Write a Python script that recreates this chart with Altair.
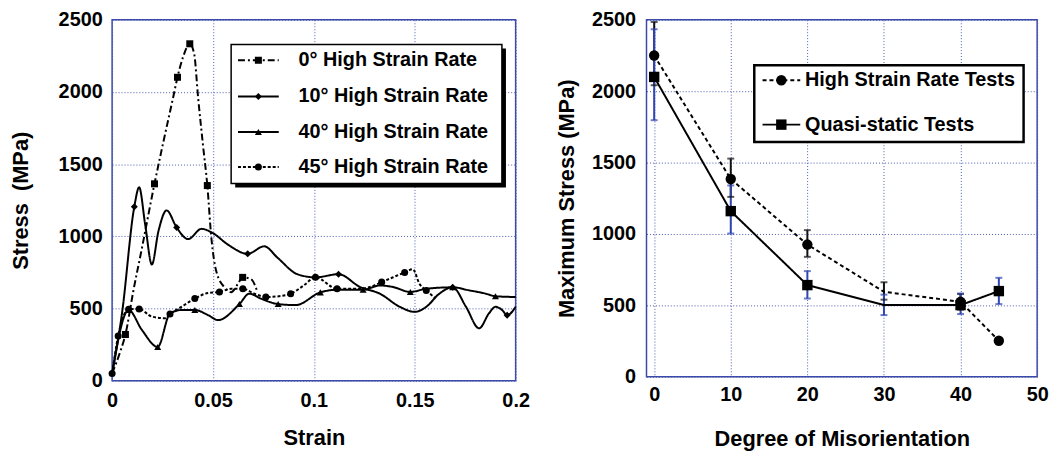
import altair as alt
import pandas as pd

FONT = "Liberation Sans"
FRAME = "#3a48a8"
GRID = "#4b5bb0"

# ---------------- left panel data (strain, stress MPa, marker flag) ----------------
LEFT_SERIES = ["0° High Strain Rate", "10° High Strain Rate",
               "40° High Strain Rate", "45° High Strain Rate"]

S0_STRAIN = [0.000, 0.004, 0.0066, 0.0105, 0.0148, 0.021, 0.0246, 0.0303, 0.0324, 0.0353,
             0.0385, 0.0407, 0.0426, 0.0451, 0.0472, 0.0492, 0.0516, 0.0557, 0.059, 0.0623,
             0.0647, 0.0688, 0.0721]
S0_STRESS = [50, 200, 320, 620, 920, 1364, 1602, 1966, 2102, 2248,
             2334, 2262, 1966, 1625, 1352, 988, 760, 647, 613, 670,
             716, 704, 613]
S0_MARK = [0, 0, 1, 0, 0, 1, 0, 0, 1, 0,
           1, 0, 0, 0, 1, 0, 0, 0, 0, 0,
           1, 0, 0]

S10_STRAIN = [0.000, 0.0049, 0.011, 0.0134, 0.0164, 0.0197, 0.023, 0.027, 0.032, 0.0377,
              0.0443, 0.050, 0.0574, 0.0672, 0.0754, 0.082, 0.0918, 0.1008, 0.1122, 0.1229,
              0.1327, 0.1426, 0.150, 0.1557, 0.1622, 0.1688, 0.1754, 0.1819, 0.1868, 0.190,
              0.1933, 0.1958, 0.200]
S10_STRESS = [50, 466, 1205, 1340, 1081, 805, 1038, 1180, 1061, 981,
              1052, 1022, 943, 879, 931, 852, 738, 716, 738, 649,
              603, 512, 477, 512, 603, 647, 512, 363, 467, 512,
              490, 454, 512]
S10_MARK = [0, 0, 1, 0, 0, 0, 0, 0, 1, 0,
            0, 0, 0, 1, 0, 0, 0, 1, 1, 0,
            0, 0, 0, 0, 0, 1, 0, 0, 0, 0,
            0, 1, 0]

S40_STRAIN = [0.000, 0.0082, 0.0147, 0.0226, 0.0287, 0.0344, 0.041, 0.0475, 0.0525, 0.0631,
              0.068, 0.0737, 0.0823, 0.091, 0.1032, 0.1115, 0.1244, 0.1327, 0.1393, 0.1478,
              0.1557, 0.1688, 0.177, 0.1852, 0.190, 0.200]
S40_STRESS = [50, 490, 353, 234, 466, 490, 490, 455, 420, 531,
              603, 569, 531, 524, 612, 630, 630, 660, 649, 615,
              637, 647, 626, 603, 585, 580]
S40_MARK = [0, 1, 0, 1, 0, 0, 1, 0, 0, 1,
            0, 0, 1, 0, 1, 0, 1, 0, 0, 1,
            0, 1, 0, 0, 1, 0]

S45_STRAIN = [0.000, 0.003, 0.0082, 0.0134, 0.0197, 0.0262, 0.0287, 0.0344, 0.041, 0.0475,
              0.0532, 0.059, 0.0648, 0.0705, 0.0762, 0.0827, 0.0885, 0.095, 0.1008, 0.1115,
              0.1229, 0.1278, 0.1336, 0.1393, 0.145, 0.149, 0.1524, 0.1557, 0.160]
S45_STRESS = [50, 310, 495, 497, 444, 433, 462, 512, 569, 608,
              615, 637, 637, 603, 580, 585, 603, 660, 716, 637,
              637, 649, 683, 717, 750, 772, 670, 625, 575]
S45_MARK = [1, 1, 1, 1, 0, 0, 1, 0, 1, 0,
            1, 0, 1, 0, 1, 0, 1, 0, 1, 1,
            0, 0, 1, 0, 1, 0, 0, 1, 0]

# ---------------- right panel data ----------------
RIGHT_SERIES = ["High Strain Rate Tests", "Quasi-static Tests"]
DEGREES = [0, 10, 20, 30, 40, 45]
HSR_STRESS = [2250, 1385, 926, 595, 525, 252]
HSR_LO = [2042, 1260, 840, 540, 470, None]
HSR_HI = [2485, 1528, 1027, 662, 580, None]
HSR_MARK = [1, 1, 1, 0, 1, 1]
QS_STRESS = [2100, 1160, 642, 502, 502, 600]
QS_LO = [1797, 1003, 548, 432, 439, 509]
QS_HI = [2434, 1340, 740, 575, 583, 693]
QS_MARK = [1, 1, 1, 0, 1, 1]


def series_frame(name, strain, stress, mark):
    return pd.DataFrame({"series": name, "i": list(range(len(strain))),
                         "strain": strain, "stress": stress, "mark": mark})


left_df = pd.concat([
    series_frame(LEFT_SERIES[0], S0_STRAIN, S0_STRESS, S0_MARK),
    series_frame(LEFT_SERIES[1], S10_STRAIN, S10_STRESS, S10_MARK),
    series_frame(LEFT_SERIES[2], S40_STRAIN, S40_STRESS, S40_MARK),
    series_frame(LEFT_SERIES[3], S45_STRAIN, S45_STRESS, S45_MARK),
], ignore_index=True)

# ---------------- left panel ----------------
lx_axis = alt.Axis(title="Strain", values=[0, 0.05, 0.1, 0.15, 0.2],
                   labelExpr="datum.value == 0 ? '0' : toString(round(datum.value * 100) / 100)",
                   labelPadding=10, titlePadding=17, labelFlush=False, labelOverlap=False)
ly_axis = alt.Axis(title="Stress\u00a0 (MPa)", values=[0, 500, 1000, 1500, 2000, 2500], format="d",
                   labelPadding=10, titlePadding=26, labelFlush=False, labelOverlap=False)
lx_scale = alt.Scale(domain=[0, 0.2], nice=False, zero=False)
ly_scale = alt.Scale(domain=[0, 2500], nice=False)


def LX(field="strain"):
    return alt.X(f"{field}:Q", scale=lx_scale, axis=lx_axis)


def LY(field="stress"):
    return alt.Y(f"{field}:Q", scale=ly_scale, axis=ly_axis)


l_dash = alt.StrokeDash("series:N", legend=None,
                        scale=alt.Scale(domain=LEFT_SERIES,
                                        range=[[7, 3, 2, 3], [1, 0], [1, 0], [3, 2]]))
l_shape = alt.Shape("series:N", legend=None,
                    scale=alt.Scale(domain=LEFT_SERIES,
                                    range=["square", "diamond", "triangle-up", "circle"]))

left_lines = alt.Chart(left_df).mark_line(color="black", strokeWidth=2,
                                          interpolate="monotone").encode(
    x=LX(), y=LY(), detail="series:N", strokeDash=l_dash, order="i:Q")
left_points = alt.Chart(left_df).transform_filter("datum.mark == 1").mark_point(
    filled=True, color="black", opacity=1, size=50).encode(x=LX(), y=LY(), shape=l_shape)

# legend (placed in data units of the panel)
L_BOX = pd.DataFrame({"strain": [0.059], "strain2": [0.1932], "stress": [2329], "stress2": [1366]})
L_SHADOW = pd.DataFrame({"strain": [0.061], "strain2": [0.1952], "stress": [2302], "stress2": [1339]})
L_ROWS = [2220, 1969, 1723, 1480]
l_leg_lines = pd.DataFrame({
    "series": [s for s in LEFT_SERIES for _ in range(2)],
    "i": [0, 1] * 4,
    "strain": [0.0624, 0.0826] * 4,
    "stress": [r for r in L_ROWS for _ in range(2)],
})
l_leg_pts = pd.DataFrame({"series": LEFT_SERIES, "strain": [0.0725] * 4, "stress": L_ROWS})
l_leg_txt = pd.DataFrame({"series": LEFT_SERIES, "strain": [0.0924] * 4, "stress": L_ROWS})

left_shadow = alt.Chart(L_SHADOW).mark_rect(fill="black").encode(
    x=LX(), x2="strain2:Q", y=LY(), y2="stress2:Q")
left_box = alt.Chart(L_BOX).mark_rect(fill="white", stroke="black", strokeWidth=1.5).encode(
    x=LX(), x2="strain2:Q", y=LY(), y2="stress2:Q")
left_leg_lines = alt.Chart(l_leg_lines).mark_line(color="black", strokeWidth=2).encode(
    x=LX(), y=LY(), detail="series:N", strokeDash=l_dash, order="i:Q")
left_leg_pts = alt.Chart(l_leg_pts).mark_point(filled=True, color="black", opacity=1, size=50).encode(
    x=LX(), y=LY(), shape=l_shape)
left_leg_txt = alt.Chart(l_leg_txt).mark_text(align="left", baseline="middle", font=FONT,
                                              fontWeight="bold", fontSize=20, color="black").encode(
    x=LX(), y=LY(), text="series:N")

left = alt.layer(left_lines, left_points, left_shadow, left_box, left_leg_lines,
                 left_leg_pts, left_leg_txt).properties(width=407, height=364)

# ---------------- right panel ----------------
right_df = pd.concat([
    pd.DataFrame({"series": RIGHT_SERIES[0], "deg": DEGREES, "stress": HSR_STRESS,
                  "lo": HSR_LO, "hi": HSR_HI, "mark": HSR_MARK}),
    pd.DataFrame({"series": RIGHT_SERIES[1], "deg": DEGREES, "stress": QS_STRESS,
                  "lo": QS_LO, "hi": QS_HI, "mark": QS_MARK}),
], ignore_index=True)

rx_axis = alt.Axis(title="Degree of Misorientation", values=[0, 10, 20, 30, 40, 50],
                   labelPadding=8, titlePadding=24, labelFlush=False, labelOverlap=False)
ry_axis = alt.Axis(title="Maximum Stress (MPa)", values=[0, 500, 1000, 1500, 2000, 2500], format="d",
                   labelPadding=11, titlePadding=13, labelFlush=False, labelOverlap=False)
rx_scale = alt.Scale(domain=[-1, 50], nice=False, zero=False)
ry_scale = alt.Scale(domain=[0, 2500], nice=False)


def RX(field="deg"):
    return alt.X(f"{field}:Q", scale=rx_scale, axis=rx_axis)


def RY(field="stress"):
    return alt.Y(f"{field}:Q", scale=ry_scale, axis=ry_axis)


r_dash = alt.StrokeDash("series:N", legend=None,
                        scale=alt.Scale(domain=RIGHT_SERIES, range=[[4, 3], [1, 0]]))
r_shape = alt.Shape("series:N", legend=None,
                    scale=alt.Scale(domain=RIGHT_SERIES, range=["circle", "square"]))
r_color = alt.Color("series:N", legend=None,
                    scale=alt.Scale(domain=RIGHT_SERIES, range=["#111111", "#2f45b0"]))

bars = alt.Chart(right_df).transform_filter("isValid(datum.lo)")
r_rules = bars.mark_rule(strokeWidth=2).encode(x=RX(), y=RY("lo"), y2="hi:Q", color=r_color)
r_cap_lo = bars.mark_tick(orient="horizontal", size=7, thickness=2).encode(
    x=RX(), y=RY("lo"), color=r_color)
r_cap_hi = bars.mark_tick(orient="horizontal", size=7, thickness=2).encode(
    x=RX(), y=RY("hi"), color=r_color)
r_lines = alt.Chart(right_df).mark_line(color="black", strokeWidth=2).encode(
    x=RX(), y=RY(), detail="series:N", strokeDash=r_dash)
r_points = alt.Chart(right_df).transform_filter("datum.mark == 1").mark_point(
    filled=True, color="black", opacity=1, size=110).encode(x=RX(), y=RY(), shape=r_shape)

R_BOX = pd.DataFrame({"deg": [13.07], "deg2": [48.23], "stress": [2182], "stress2": [1645]})
R_ROWS = [2077, 1766]
r_leg_lines = pd.DataFrame({
    "series": [s for s in RIGHT_SERIES for _ in range(2)],
    "deg": [14.15, 19.07] * 2,
    "stress": [r for r in R_ROWS for _ in range(2)],
})
r_leg_pts = pd.DataFrame({"series": RIGHT_SERIES, "deg": [16.6] * 2, "stress": R_ROWS})
r_leg_txt = pd.DataFrame({"series": RIGHT_SERIES, "deg": [19.7] * 2, "stress": R_ROWS})

right_box = alt.Chart(R_BOX).mark_rect(fill="white", stroke="black", strokeWidth=2.5).encode(
    x=RX(), x2="deg2:Q", y=RY(), y2="stress2:Q")
right_leg_lines = alt.Chart(r_leg_lines).mark_line(color="black", strokeWidth=2).encode(
    x=RX(), y=RY(), detail="series:N", strokeDash=r_dash)
right_leg_pts = alt.Chart(r_leg_pts).mark_point(filled=True, color="black", opacity=1, size=110).encode(
    x=RX(), y=RY(), shape=r_shape)
right_leg_txt = alt.Chart(r_leg_txt).mark_text(align="left", baseline="middle", font=FONT,
                                               fontWeight="bold", fontSize=20, color="black").encode(
    x=RX(), y=RY(), text="series:N")

right = alt.layer(r_rules, r_cap_lo, r_cap_hi, r_lines, r_points, right_box,
                  right_leg_lines, right_leg_pts, right_leg_txt).properties(width=394, height=360)

chart = alt.hconcat(left, right, spacing=24).resolve_scale(
    color="independent", shape="independent", strokeDash="independent"
).properties(
    padding={"left": 0, "top": -1, "right": 5, "bottom": 5},
    background="white",
).configure_view(
    stroke=FRAME, strokeWidth=1.5
).configure_axis(
    labelFont=FONT, labelFontWeight="bold", labelFontSize=20, labelColor="black",
    titleFont=FONT, titleFontWeight="bold", titleFontSize=22, titleColor="black",
    domain=False, ticks=False, tickSize=0,
    grid=True, gridColor=GRID, gridDash=[1, 2], gridWidth=1, gridOpacity=1,
)

chart.save("out.html", embed_options={"renderer": "svg", "actions": False})
